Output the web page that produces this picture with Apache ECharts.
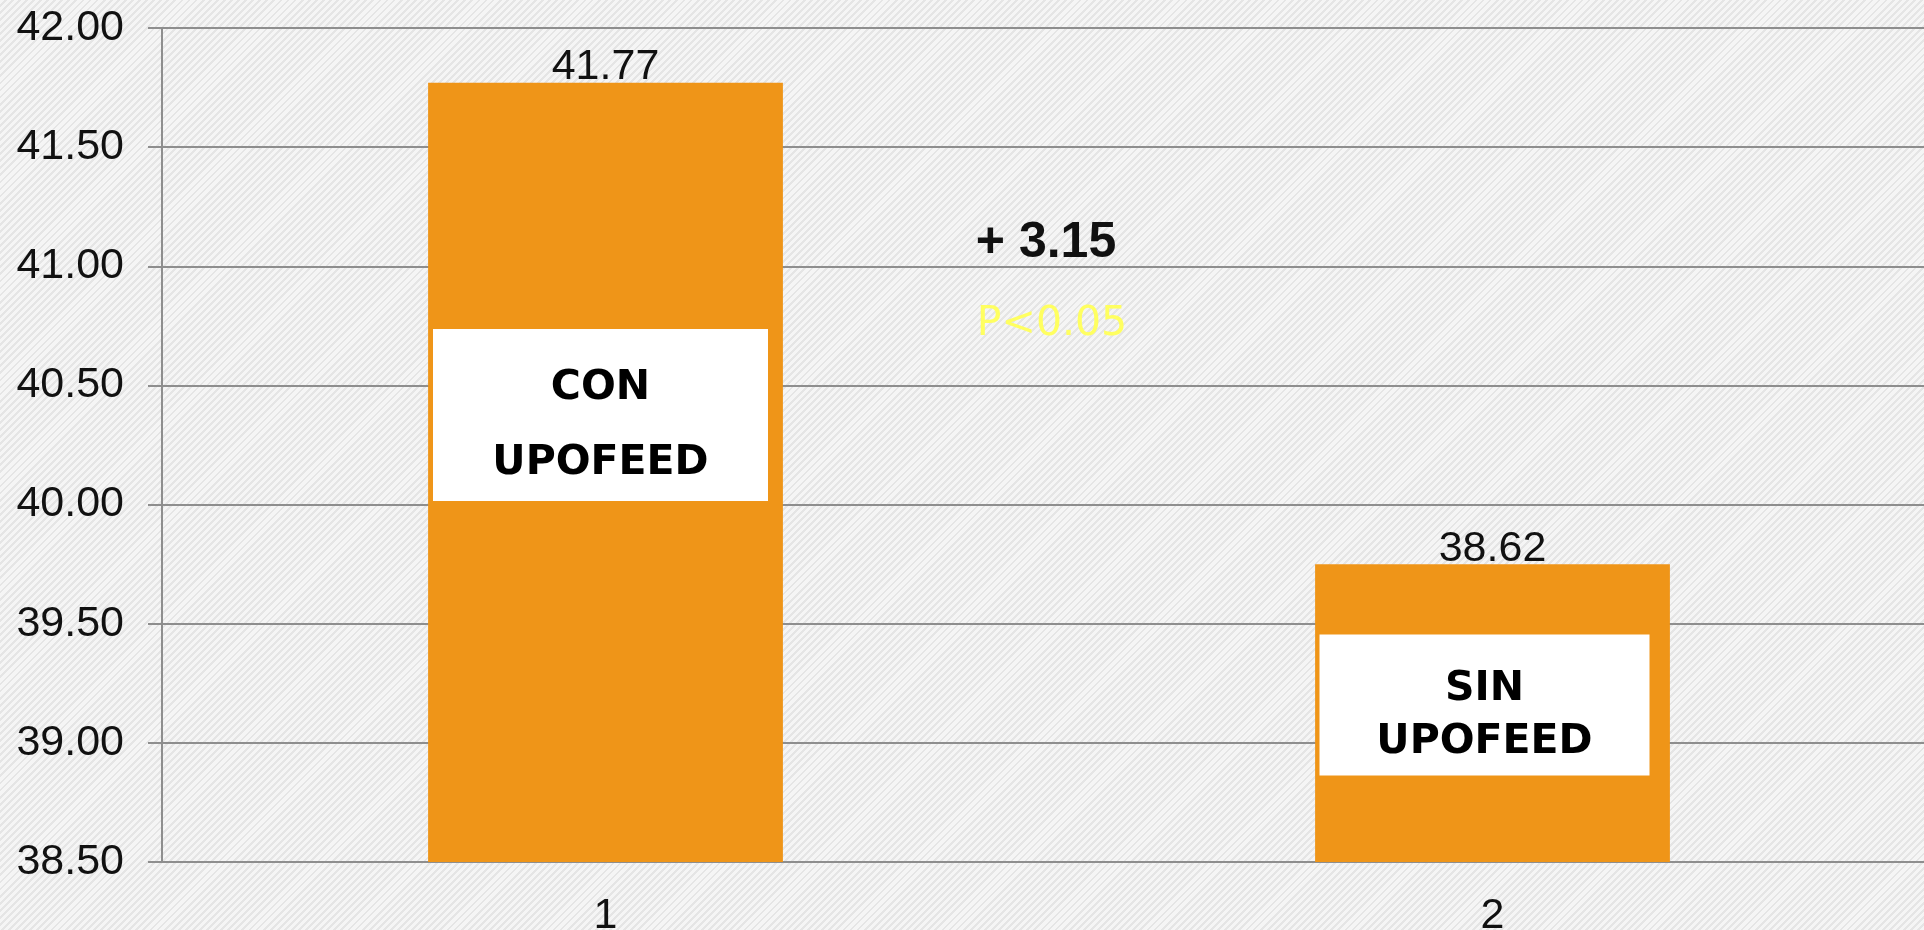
<!DOCTYPE html>
<html>
<head>
<meta charset="utf-8">
<script src="https://cdn.jsdelivr.net/npm/echarts@6/dist/echarts.min.js"></script>
<style>
  html, body { margin: 0; padding: 0; }
  #chart {
    width: 1924px;
    height: 930px;
    background: repeating-linear-gradient(135deg, #f5f5f5 0px, #f5f5f5 3px, #e5e5e5 3px, #e5e5e5 5px);
  }
</style>
</head>
<body>
<div id="chart"></div>
<script>
const categories = ['1', '2']
const values = [41.77, 39.75]
const valueLabels = ['41.77', '38.62']
const boxLabels = [['CON', 'UPOFEED'], ['SIN', 'UPOFEED']]
const yTicks = [38.5, 39, 39.5, 40, 40.5, 41, 41.5, 42]
const diffText = '+ 3.15'
const pText = 'P<0.05'

const axisFont = 'Liberation Sans, Arial, sans-serif'
const lineColor = '#8e8e8e'

const chart = echarts.init(document.getElementById('chart'))
const option = {
  backgroundColor: 'transparent',
  animation: false,
  grid: {
    left: 162,
    right: -12,
    top: 28,
    bottom: 68,
    outerBoundsMode: 'none'
  },
  xAxis: {
    type: 'category',
    data: categories,
    axisLine: { lineStyle: { color: lineColor, width: 2 } },
    axisTick: { length: 13, lineStyle: { color: lineColor, width: 2 } },
    axisLabel: {
      margin: 33,
      fontFamily: axisFont,
      fontSize: 43,
      color: '#111'
    }
  },
  yAxis: {
    type: 'value',
    min: yTicks[0],
    max: yTicks[yTicks.length - 1],
    interval: 0.5,
    axisLine: { show: true, lineStyle: { color: lineColor, width: 2 } },
    axisTick: { show: true, length: 14, lineStyle: { color: lineColor, width: 2 } },
    splitLine: { lineStyle: { color: lineColor, width: 2 } },
    axisLabel: {
      margin: 38,
      fontFamily: axisFont,
      fontSize: 43,
      color: '#111',
      formatter: v => v.toFixed(2)
    }
  },
  series: [
    {
      type: 'bar',
      data: values,
      barWidth: '40%',
      itemStyle: { color: '#EF9518' },
      label: {
        show: true,
        position: 'top',
        distance: -6,
        fontFamily: axisFont,
        fontSize: 43,
        lineHeight: 43,
        color: '#111',
        formatter: p => valueLabels[p.dataIndex]
      },
      markPoint: {
        symbol: 'rect',
        itemStyle: { color: '#ffffff' },
        label: {
          show: true,
          position: 'inside',
          offset: [0, 11],
          fontFamily: 'DejaVu Sans, sans-serif',
          fontWeight: 'bold',
          fontSize: 41,
          color: '#000'
        },
        data: [
          {
            coord: [0, 40.376],
            symbolSize: [335, 172],
            symbolOffset: [-5, 0],
            label: { lineHeight: 75, formatter: boxLabels[0].join('\n') }
          },
          {
            coord: [1, 39.159],
            symbolSize: [330, 141],
            symbolOffset: [-8, 0],
            label: { lineHeight: 53, formatter: boxLabels[1].join('\n') }
          }
        ]
      }
    }
  ],
  graphic: [
    {
      type: 'text',
      x: 1046,
      y: 243,
      style: {
        text: diffText,
        fontFamily: 'Liberation Sans, Arial, sans-serif',
        fontWeight: 'bold',
        fontSize: 50,
        fill: '#111',
        textAlign: 'center',
        textVerticalAlign: 'middle'
      }
    },
    {
      type: 'text',
      x: 1052,
      y: 324,
      style: {
        text: pText,
        fontFamily: 'DejaVu Sans, sans-serif',
        fontSize: 41,
        fill: '#FFFF60',
        textAlign: 'center',
        textVerticalAlign: 'middle'
      }
    }
  ]
}
chart.setOption(option)
</script>
</body>
</html>
